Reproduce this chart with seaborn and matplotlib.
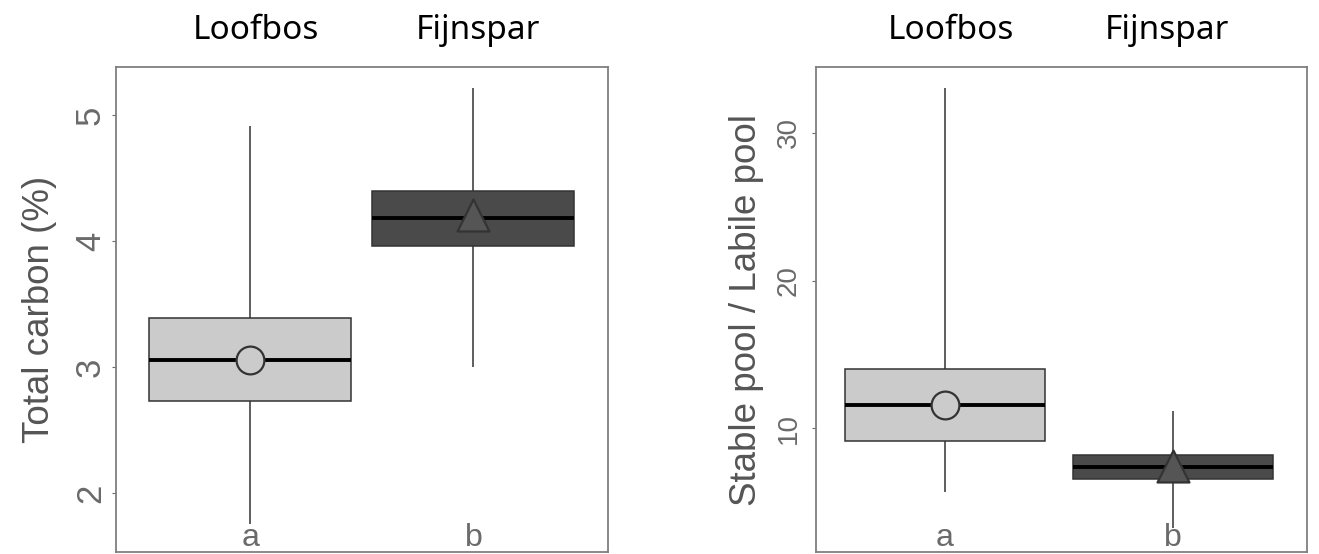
import matplotlib
matplotlib.use('Agg')
import matplotlib.pyplot as plt
import seaborn as sns
import pandas as pd

groups = ['Loofbos', 'Fijnspar']
letters = ['a', 'b']
fills = ['#cbcbcb', '#4a4a4a']
mean_markers = ['o', '^']

# five number summaries (min, q1, median, q3, max) + means
carbon_min = [1.76, 3.00]
carbon_q1 = [2.73, 3.96]
carbon_med = [3.06, 4.18]
carbon_q3 = [3.39, 4.40]
carbon_max = [4.91, 5.21]
carbon_mean = [3.06, 4.21]

ratio_min = [5.71, 3.25]
ratio_q1 = [9.16, 6.54]
ratio_med = [11.58, 7.36]
ratio_q3 = [14.01, 8.19]
ratio_max = [33.0, 11.19]
ratio_mean = [11.58, 7.43]


def long_table(mins, q1s, meds, q3s, maxs):
    rows = []
    for i, g in enumerate(groups):
        for v in (mins[i], q1s[i], meds[i], q3s[i], maxs[i]):
            rows.append({'group': g, 'value': v})
    return pd.DataFrame(rows)


carbon = long_table(carbon_min, carbon_q1, carbon_med, carbon_q3, carbon_max)
ratio = long_table(ratio_min, ratio_q1, ratio_med, ratio_q3, ratio_max)

sns.set_style('white')
plt.rcParams['font.family'] = ['Liberation Sans', 'DejaVu Sans']

W, H = 1319, 554
fig = plt.figure(figsize=(W / 100, H / 100), dpi=100)
ax1 = fig.add_axes([116 / W, 2 / H, 492 / W, 485 / H])
ax2 = fig.add_axes([816 / W, 2 / H, 491 / W, 485 / H])


def draw(ax, df, means, ylim, yticks, xlim, width, ylabel, label_x,
         tick_size, tick_pad):
    sns.boxplot(data=df, x='group', y='value', hue='group', order=groups,
                hue_order=groups, palette=fills, whis=(0, 100), width=width,
                showcaps=False, linecolor='#333333', linewidth=1.1,
                medianprops={'color': 'black', 'linewidth': 2.8},
                legend=False, ax=ax)
    for i, g in enumerate(groups):
        sns.stripplot(x=[g], y=[means[i]], order=groups, marker=mean_markers[i],
                      size=20 if i == 0 else 23, color=fills[i] if i == 0 else '#555555',
                      edgecolor='#333333', linewidth=1.6, jitter=False,
                      zorder=5, ax=ax)
    ax.set_ylim(*ylim)
    ax.set_xlim(*xlim)
    ax.set_yticks(yticks)
    ax.set_xticks([])
    ax.set_xlabel('')
    ax.set_ylabel('')
    ax.tick_params(axis='y', left=True, labelsize=tick_size, colors='#6a6a6a',
                   length=3, width=0.8, pad=tick_pad)
    for lab in ax.get_yticklabels():
        lab.set_rotation(90)
        lab.set_va('center')
    for s in ax.spines.values():
        s.set_visible(True)
        s.set_color('#7f7f7f')
        s.set_linewidth(1.3)
    for i, t in enumerate(letters):
        ax.text(i, 0.012, t, transform=ax.get_xaxis_transform(), ha='center',
                va='baseline', fontsize=23, color='#6a6a6a')
    fig.text(label_x / W, 0.5 * (1 - 67 / H + 1 - 552 / H), ylabel,
             rotation=90, ha='center', va='center', fontsize=26.5,
             color='#555555')


draw(ax1, carbon, carbon_mean, (1.535, 5.38), [2, 3, 4, 5], (-0.601, 1.603),
     0.905, 'Total carbon (%)', 40, 25, 3.5)
draw(ax2, ratio, ratio_mean, (1.63, 34.45), [10, 20, 30], (-0.566, 1.588),
     0.88, 'Stable pool / Labile pool', 747, 20, 7)

# group names above each panel
for cx, name in zip([256, 478, 951, 1167], groups * 2):
    fig.text(cx / W, 1 - 39 / H, name, ha='center', va='baseline',
             fontsize=24, color='black', family=['Noto Sans', 'DejaVu Sans'])

fig.savefig('out.png', dpi=100)
